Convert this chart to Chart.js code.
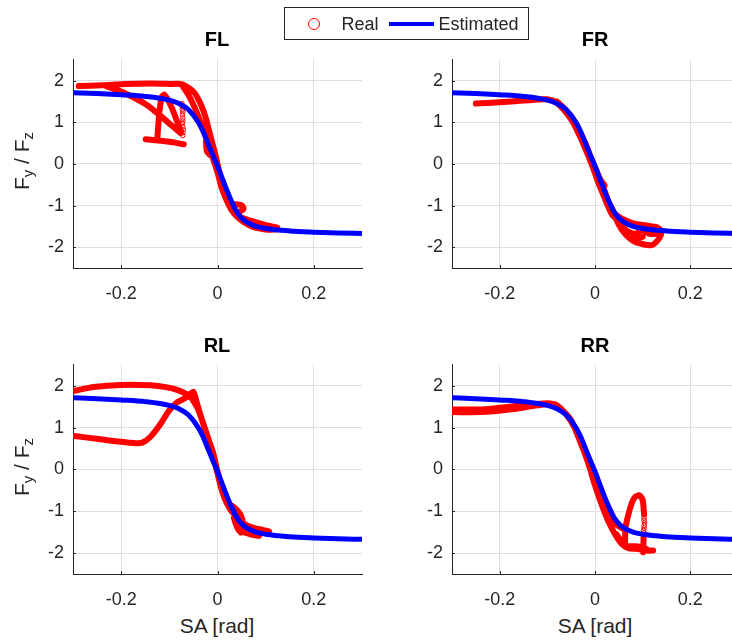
<!DOCTYPE html>
<html>
<head>
<meta charset="utf-8">
<title>Fy/Fz vs SA</title>
<script src="https://cdn.jsdelivr.net/npm/chart.js@4.4.1/dist/chart.umd.min.js"></script>
<style>
    html, body { margin: 0; padding: 0; background: #fff; overflow: hidden; }
    #fig { position: relative; width: 732px; height: 643px; overflow: hidden;
           font-family: "Liberation Sans", Arial, sans-serif; color: #262626; }
    #fig canvas { position: absolute; }
    .ttl { position: absolute; transform: translate(-50%, -50%); font-size: 20px;
           font-weight: bold; color: #000; white-space: nowrap; }
    .xlab { position: absolute; transform: translate(-50%, -50%); font-size: 21px; white-space: nowrap; }
    .ylab { position: absolute; transform: translate(-50%, -50%) rotate(-90deg); font-size: 21px; white-space: nowrap; }
    .ylab sub { font-size: 15px; vertical-align: -4px; line-height: 0; }
    #legend { position: absolute; left: 283.5px; top: 7px; width: 243px; height: 31px;
              border: 1px solid #262626; background: #fff; font-size: 18px; }
    #legend .txt { position: absolute; top: 50%; transform: translateY(-50%); white-space: nowrap; }
    #legend .mk { position: absolute; left: 23.5px; top: 10px; width: 10px; height: 10px;
                  border: 1px solid #ff0000; border-radius: 50%; }
    #legend .ln { position: absolute; left: 104.5px; top: 13.5px; width: 45px; height: 4px; background: #0000ff; }
</style>
</head>
<body>
<div id="fig">
    <canvas id="cFL" width="368" height="268" style="left:0px;top:40px"></canvas>
    <canvas id="cFR" width="365" height="268" style="left:379px;top:40px"></canvas>
    <canvas id="cRL" width="368" height="269" style="left:0px;top:345px"></canvas>
    <canvas id="cRR" width="365" height="269" style="left:379px;top:345px"></canvas>

    <div class="ttl" style="left:217px;top:39px">FL</div>
    <div class="ttl" style="left:595px;top:39px">FR</div>
    <div class="ttl" style="left:217px;top:345px">RL</div>
    <div class="ttl" style="left:595px;top:345px">RR</div>

    <div class="ylab" style="left:22px;top:161px">F<sub>y</sub> / F<sub>z</sub></div>
    <div class="ylab" style="left:22px;top:467px">F<sub>y</sub> / F<sub>z</sub></div>
    <div class="xlab" style="left:217px;top:626px">SA [rad]</div>
    <div class="xlab" style="left:595px;top:626px">SA [rad]</div>

    <div id="legend">
        <span class="mk"></span>
        <span class="txt" style="left:57px">Real</span>
        <span class="ln"></span>
        <span class="txt" style="left:154px">Estimated</span>
    </div>
</div>

<script>
// axis ticks
const xTicks = [-0.2, 0, 0.2];
const yTicks = [-2, -1, 0, 1, 2];

// fitted tyre curve (Estimated), same for every corner
const estSA = [-0.30, -0.25, -0.20, -0.15, -0.10, -0.08, -0.06, -0.04, -0.03, -0.02, -0.01, 0.00,
               0.01, 0.02, 0.03, 0.04, 0.05, 0.06, 0.08, 0.10, 0.15, 0.20, 0.25, 0.30];
const estFy = [1.71, 1.69, 1.66, 1.62, 1.53, 1.45, 1.30, 1.00, 0.78, 0.50, 0.22, -0.05,
               -0.35, -0.65, -0.92, -1.15, -1.30, -1.39, -1.50, -1.55, -1.61, -1.64, -1.66, -1.67];

// measured traces (Real), null splits separate passes
const flRealSA = [-0.288, -0.24, -0.19, -0.14, -0.10, -0.073, -0.049, -0.035, -0.025, -0.018, -0.011, -0.004, 0.004, 0.012, 0.020, 0.030, 0.044, 0.062, 0.082, 0.103, 0.124, null,
                  -0.073, -0.060, -0.050, -0.040, -0.030, -0.020, -0.010, 0.000, 0.008, 0.016, 0.022, 0.030, 0.040, 0.055, 0.075, 0.103, 0.124, null,
                  0.037, 0.051, 0.054, 0.045, null,
                  -0.024, -0.022, -0.016, null,
                  -0.23, -0.205, -0.175, -0.146, -0.120, -0.095, -0.077, null,
                  -0.149, -0.100, -0.070, null,
                  -0.125, -0.121, -0.116, -0.110, -0.095, -0.076];
const flRealFy = [1.87, 1.89, 1.92, 1.93, 1.92, 1.91, 1.72, 1.44, 1.13, 0.82, 0.51, 0.20, -0.20, -0.55, -0.85, -1.10, -1.26, -1.34, -1.41, -1.48, -1.53, null,
                  1.88, 1.65, 1.42, 1.15, 0.85, 0.50, 0.15, -0.20, -0.55, -0.80, -0.95, -1.12, -1.26, -1.40, -1.52, -1.58, -1.57, null,
                  -0.97, -1.00, -1.08, -1.15, null,
                  0.55, 0.30, 0.22, null,
                  1.86, 1.76, 1.60, 1.41, 1.17, 0.92, 0.74, null,
                  0.59, 0.53, 0.47, null,
                  0.60, 1.20, 1.60, 1.66, 1.35, 0.78];
const flDotSA = [-0.074, -0.073, -0.073, -0.072, -0.073, -0.072, -0.072, -0.073, -0.072, -0.071, -0.072, -0.072];
const flDotFy = [1.45, 1.38, 1.31, 1.25, 1.18, 1.10, 1.03, 0.97, 0.89, 0.82, 0.75, 0.68];

const frRealSA = [-0.250, -0.200, -0.150, -0.100, -0.080, -0.059, -0.038, -0.021, -0.010, 0.000, 0.010, 0.017, 0.028, 0.038, 0.049, 0.063, 0.080, 0.101, 0.119, 0.129, 0.138, 0.138, 0.129, 0.108, 0.080, 0.059, 0.042, null,
                  -0.080, -0.062, -0.046, -0.030, -0.016, -0.004, 0.006, 0.016, 0.026, 0.036, 0.049, 0.066, 0.084, 0.098, 0.115, 0.129, null,
                  -0.014, -0.007, null,
                  0.014, 0.020, null,
                  0.059, 0.077, 0.091, 0.100];
const frRealFy = [1.45, 1.48, 1.52, 1.55, 1.46, 1.21, 0.86, 0.51, 0.19, -0.08, -0.35, -0.55, -0.90, -1.13, -1.44, -1.68, -1.85, -1.93, -1.95, -1.87, -1.72, -1.60, -1.52, -1.48, -1.43, -1.33, -1.21, null,
                  1.50, 1.30, 1.00, 0.62, 0.25, -0.10, -0.42, -0.70, -0.98, -1.22, -1.37, -1.60, -1.68, -1.60, -1.68, -1.68, null,
                  0.23, 0.04, null,
                  -0.42, -0.52, null,
                  -1.52, -1.72, -1.79, -1.75];

const rlRealSA = [-0.297, -0.257, -0.201, -0.139, -0.104, -0.084, -0.066, -0.056, -0.047, -0.039, -0.027, -0.018, -0.009, -0.001, 0.008, 0.017, 0.027, 0.040, 0.055, 0.075, 0.107, null,
                  -0.297, -0.243, -0.174, -0.156, -0.139, -0.118, -0.101, -0.084, -0.066, -0.056, -0.050, -0.042, -0.032, -0.021, -0.011, -0.002, 0.006, 0.015, 0.027, 0.037, 0.048, 0.049, null,
                  0.027, 0.037, 0.048, 0.053, 0.049, 0.041, 0.034, null,
                  0.048, 0.068, 0.086];
const rlRealFy = [1.88, 1.97, 2.02, 2.01, 1.96, 1.90, 1.81, 1.73, 1.58, 1.40, 1.01, 0.70, 0.39, 0.00, -0.38, -0.70, -0.93, -1.12, -1.30, -1.40, -1.48, null,
                  0.80, 0.72, 0.63, 0.64, 0.78, 1.09, 1.40, 1.60, 1.71, 1.81, 1.85, 1.56, 1.17, 0.78, 0.39, 0.00, -0.38, -0.70, -0.97, -1.10, -1.30, -1.51, null,
                  -0.85, -0.93, -1.08, -1.32, -1.51, -1.39, -1.16, null,
                  -1.47, -1.55, -1.59];

const rrRealSA = [-0.300, -0.230, -0.160, -0.100, -0.080, -0.059, -0.042, -0.030, -0.019, -0.010, -0.002, 0.007, 0.017, 0.028, 0.042, 0.056, 0.070, 0.087, 0.108, 0.122, null,
                  -0.300, -0.240, -0.180, -0.120, -0.085, -0.052, -0.035, -0.017, -0.003, 0.010, 0.028, 0.045, 0.066, null,
                  0.045, 0.063, 0.090, 0.108, null,
                  0.063, 0.064, 0.070, 0.077, 0.084, 0.093, 0.100, 0.103, null,
                  0.102, 0.101];
const rrRealFy = [1.43, 1.44, 1.52, 1.58, 1.52, 1.29, 0.98, 0.63, 0.31, 0.00, -0.31, -0.62, -0.93, -1.24, -1.55, -1.78, -1.88, -1.90, -1.94, -1.94, null,
                  1.37, 1.37, 1.43, 1.53, 1.56, 1.21, 0.78, 0.31, -0.15, -0.70, -1.08, -1.32, -1.47, null,
                  -1.55, -1.82, -1.84, -1.90, null,
                  -1.82, -1.40, -1.08, -0.81, -0.66, -0.62, -0.73, -1.08, null,
                  -1.62, -1.98];
const rrDotSA = [0.103, 0.103, 0.104, 0.103, 0.103, 0.102, 0.103];
const rrDotFy = [-1.16, -1.22, -1.28, -1.34, -1.40, -1.46, -1.52];

const AXIS_COLOR = '#262626';
const GRID_COLOR = '#dfdfdf';
const FONT = 'Liberation Sans, Arial, sans-serif';

function toPoints(xs, ys) {
    return xs.map((x, i) => ({ x: x, y: ys[i] }));
}

// short inward tick marks on the left and bottom axes
const innerTicks = {
    id: 'innerTicks',
    afterDraw(chart) {
        const ctx = chart.ctx;
        const area = chart.chartArea;
        const xs = chart.scales.x, ys = chart.scales.y;
        ctx.save();
        ctx.strokeStyle = AXIS_COLOR;
        ctx.lineWidth = 1;
        ctx.beginPath();
        xTicks.forEach(v => {
            const px = Math.round(xs.getPixelForValue(v)) + 0.5;
            ctx.moveTo(px, area.bottom);
            ctx.lineTo(px, area.bottom - 3);
        });
        yTicks.forEach(v => {
            const py = Math.round(ys.getPixelForValue(v)) + 0.5;
            ctx.moveTo(area.left, py);
            ctx.lineTo(area.left + 3, py);
        });
        ctx.stroke();
        ctx.restore();
    }
};

function makePlot(canvasId, realSA, realFy, dotSA, dotFy, padTop) {
    const datasets = [
        {
            label: 'Estimated',
            data: toPoints(estSA, estFy),
            showLine: true,
            borderColor: '#0000ff',
            borderWidth: 5,
            pointRadius: 0,
            cubicInterpolationMode: 'monotone',
            order: 0
        },
        {
            label: 'Real',
            data: toPoints(realSA, realFy),
            showLine: true,
            borderColor: '#ff0000',
            borderWidth: 6,
            borderCapStyle: 'round',
            borderJoinStyle: 'round',
            tension: 0.25,
            pointRadius: 0,
            spanGaps: false,
            order: 2
        }
    ];
    if (dotSA) {
        datasets.push({
            label: 'Real',
            data: toPoints(dotSA, dotFy),
            showLine: false,
            pointRadius: 2.3,
            pointBorderWidth: 1,
            pointBorderColor: '#ff0000',
            pointBackgroundColor: 'rgba(255,255,255,0)',
            order: 1
        });
    }

    return new Chart(document.getElementById(canvasId), {
        type: 'scatter',
        data: { datasets: datasets },
        plugins: [innerTicks],
        options: {
            responsive: false,
            animation: false,
            layout: { padding: { top: padTop, right: 6, left: 0, bottom: 0 } },
            plugins: {
                legend: { display: false },
                tooltip: { enabled: false }
            },
            scales: {
                x: {
                    type: 'linear',
                    min: -0.3,
                    max: 0.3,
                    afterBuildTicks: s => { s.ticks = xTicks.map(v => ({ value: v })); },
                    afterFit: s => { s.height = 40; },
                    ticks: {
                        padding: 15,
                        color: AXIS_COLOR,
                        font: { family: FONT, size: 18 },
                        callback: v => (v === 0 ? '0' : v.toFixed(1))
                    },
                    grid: { color: GRID_COLOR, drawTicks: false },
                    border: { color: AXIS_COLOR, width: 1 }
                },
                y: {
                    type: 'linear',
                    min: -2.5,
                    max: 2.5,
                    afterBuildTicks: s => { s.ticks = yTicks.map(v => ({ value: v })); },
                    afterFit: s => { s.width = 73; },
                    ticks: {
                        padding: 9,
                        color: AXIS_COLOR,
                        font: { family: FONT, size: 18 },
                        callback: v => String(v)
                    },
                    grid: { color: GRID_COLOR, drawTicks: false },
                    border: { color: AXIS_COLOR, width: 1 }
                }
            }
        }
    });
}

makePlot('cFL', flRealSA, flRealFy, flDotSA, flDotFy, 14.5);
makePlot('cFR', frRealSA, frRealFy, null, null, 14.5);
makePlot('cRL', rlRealSA, rlRealFy, null, null, 15);
makePlot('cRR', rrRealSA, rrRealFy, rrDotSA, rrDotFy, 15);
</script>
</body>
</html>
